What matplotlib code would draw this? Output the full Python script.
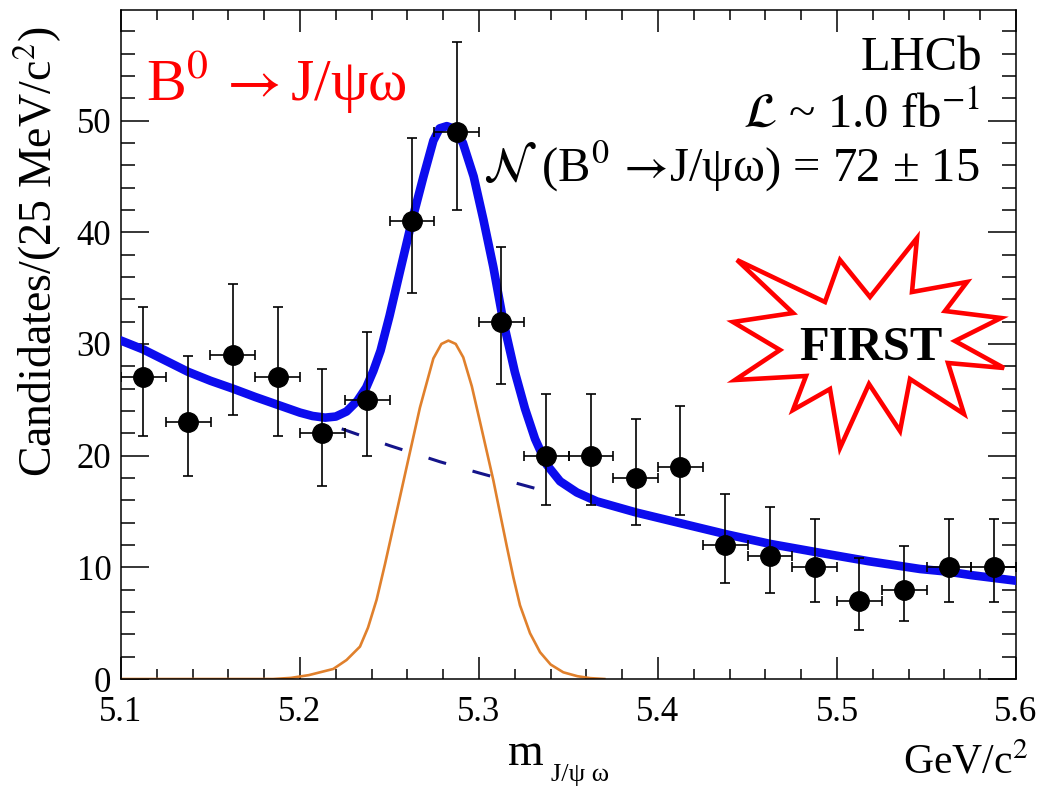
import numpy as np
import matplotlib
matplotlib.use("Agg")
import matplotlib.pyplot as plt
from matplotlib.patches import Polygon
from matplotlib.ticker import MultipleLocator

plt.rcParams['font.family'] = ['Liberation Serif', 'DejaVu Serif']
plt.rcParams['mathtext.fontset'] = 'stix'

# ---------------- data ----------------
bin_width = 0.025
mass_centers = [5.1125, 5.1375, 5.1625, 5.1875, 5.2125, 5.2375, 5.2625, 5.2875,
                5.3125, 5.3375, 5.3625, 5.3875, 5.4125, 5.4375, 5.4625, 5.4875,
                5.5125, 5.5375, 5.5625, 5.5875]
counts = [27, 23, 29, 27, 22, 25, 41, 49, 32, 20, 20, 18, 19, 12, 11, 10, 7, 8, 10, 10]
err_low = [5.2, 4.8, 5.4, 5.2, 4.7, 5.0, 6.4, 7.0, 5.6, 4.4, 4.4, 4.2, 4.3, 3.4, 3.3,
           3.1, 2.6, 2.8, 3.1, 3.1]
err_high = [6.3, 5.9, 6.4, 6.3, 5.8, 6.1, 7.4, 8.0, 6.7, 5.5, 5.5, 5.3, 5.4, 4.6, 4.4,
            4.3, 3.8, 3.9, 4.3, 4.3]

# total fit curve
fit_x = [5.100, 5.1125, 5.125, 5.1375, 5.150, 5.1625, 5.175, 5.1875, 5.200, 5.207,
         5.214, 5.220, 5.226, 5.232, 5.237, 5.241, 5.245, 5.250, 5.256, 5.2625,
         5.269, 5.2745, 5.278, 5.282, 5.2856, 5.291, 5.297, 5.3025, 5.308, 5.3136,
         5.320, 5.3257, 5.3313, 5.3378, 5.3453, 5.3547, 5.3659, 5.388, 5.4125,
         5.4384, 5.4625, 5.4905, 5.5175, 5.5464, 5.5625, 5.575, 5.600]
fit_y = [30.3, 29.5, 28.5, 27.5, 26.7, 26.0, 25.25, 24.55, 23.85, 23.55,
         23.4, 23.5, 23.95, 24.9, 26.1, 27.6, 29.4, 32.5, 36.6, 41.0,
         45.0, 48.2, 49.3, 49.5, 49.3, 48.0, 45.0, 41.1, 36.9, 32.0,
         27.5, 24.2, 21.5, 19.2, 17.7, 16.7, 15.9, 14.9, 13.95,
         12.95, 12.1, 11.3, 10.55, 9.85, 9.6, 9.3, 8.8]

# signal component
sig_x = [5.100, 5.185, 5.195, 5.205, 5.2186, 5.226, 5.2335, 5.238, 5.2428, 5.2475,
         5.2521, 5.2596, 5.267, 5.2745, 5.279, 5.2829, 5.287, 5.2912, 5.296, 5.3006,
         5.3043, 5.308, 5.3118, 5.3155, 5.3192, 5.3229, 5.3285, 5.3341, 5.340, 5.3471,
         5.355, 5.362, 5.370]
sig_y = [0.0, 0.0, 0.1, 0.35, 0.9, 1.7, 2.9, 4.6, 7.1, 10.3,
         13.6, 19.0, 24.3, 28.7, 30.0, 30.3, 30.0, 28.8, 26.2, 23.0,
         20.4, 17.8, 14.8, 11.9, 9.1, 6.6, 4.1, 2.4, 1.3, 0.6,
         0.25, 0.08, 0.0]

# background component under the peak (dashed)
bkg_x = [5.2233, 5.250, 5.2782, 5.300, 5.3341]
bkg_y = [22.4, 20.9, 19.45, 18.45, 16.95]

x_ticks = [5.1, 5.2, 5.3, 5.4, 5.5, 5.6]
y_ticks = [0, 10, 20, 30, 40, 50]

# ---------------- figure ----------------
W, H = 1044, 792
fig = plt.figure(figsize=(W / 100, H / 100), dpi=100)


def P(px, py):
    return (px / W, 1 - py / H)


ax_l, ax_r, ax_t, ax_b = 121, 1016, 10, 679
ax = fig.add_axes([ax_l / W, 1 - ax_b / H, (ax_r - ax_l) / W, (ax_b - ax_t) / H])

ax.plot(sig_x, sig_y, color='#e0802c', lw=1.9, zorder=2)
ax.plot(bkg_x, bkg_y, color='#14148a', lw=2.2, dashes=(6, 9), zorder=2)
ax.plot(fit_x, fit_y, color='#0c0cee', lw=6.2, zorder=3, solid_joinstyle='round')

ax.errorbar(mass_centers, counts, xerr=bin_width / 2, yerr=[err_low, err_high],
            fmt='o', color='black', ms=14, elinewidth=1.2, capsize=3.5,
            capthick=1.2, zorder=4)

ax.set_xlim(5.1, 5.6)
ax.set_ylim(0, 59.9)
ax.set_xticks(x_ticks)
ax.set_xticklabels([f"{v:.1f}" for v in x_ticks])
ax.set_yticks(y_ticks)
ax.xaxis.set_minor_locator(MultipleLocator(0.02))
ax.yaxis.set_minor_locator(MultipleLocator(2))
ax.tick_params(which='both', direction='in', top=True, right=True, width=1.1,
               labelsize=25, colors='black')
ax.tick_params(axis='x', which='major', length=15.5, pad=12)
ax.tick_params(axis='x', which='minor', length=7.5)
ax.tick_params(axis='y', which='major', length=20, pad=7)
ax.tick_params(axis='y', which='minor', length=10)
for s in ax.spines.values():
    s.set_linewidth(1.1)

# labels
fig.text(*P(38, 252), 'Candidates/(25 MeV/c$^2$)', rotation=90, ha='center',
         va='center', fontsize=33)
fig.text(*P(508, 765), 'm', ha='left', va='baseline', fontsize=33)
fig.text(*P(551, 781), 'J/ψ ω', ha='left', va='baseline', fontsize=19)
fig.text(*P(1028, 774), 'GeV/c$^2$', ha='right', va='baseline', fontsize=30)

# annotations
fig.text(*P(146, 100), r'B$^0\,\rightarrow$J/ψω', color='#ff0000', ha='left',
         va='baseline', fontsize=43)
fig.text(*P(982, 70), 'LHCb', ha='right', va='baseline', fontsize=35)
fig.text(*P(980, 127), r'$\mathcal{L}$ ~ 1.0 fb$^{-1}$', ha='right', va='baseline',
         fontsize=35)
fig.text(*P(980, 182), r'$\mathcal{N}$ (B$^0\,\rightarrow\!$J/ψω) = 72 ± 15',
         ha='right', va='baseline', fontsize=35)

star_px = [(737, 260), (825, 302), (840, 260), (870, 297), (917, 238), (912, 292),
           (967, 282), (945, 311), (1001, 318), (955, 341), (1004, 368), (948, 363),
           (964, 414), (910, 379), (900, 431), (869, 384), (840, 448), (830, 389),
           (793, 410), (806, 376), (735, 380), (780, 350), (733, 322), (793, 313)]
star = Polygon([P(a, b) for a, b in star_px], closed=True, fill=False,
               edgecolor='#ff0000', lw=3.3, joinstyle='miter',
               transform=fig.transFigure)
fig.patches.append(star)
fig.text(*P(871, 360), 'FIRST', ha='center', va='baseline', fontsize=35,
         fontweight='bold')

fig.savefig('out.png', dpi=100, facecolor='white')
